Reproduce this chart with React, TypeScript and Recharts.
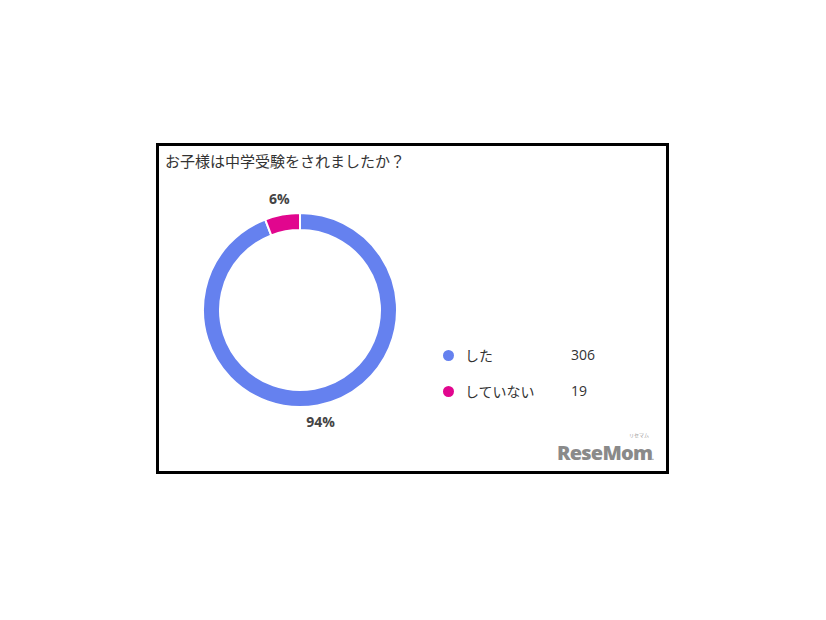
import React from 'react';
import { PieChart, Pie, Cell, Legend } from 'recharts';

const categories = ['した', 'していない'];
const counts = [306, 19];
const percentLabels = ['94%', '6%'];
const colors = ['#6581EF', '#E1068E'];
const title = 'お子様は中学受験をされましたか？';

const data = categories.map((name, i) => ({ name, value: counts[i] }));

const RADIAN = Math.PI / 180;
const renderLabel = (props: any) => {
  const { cx, cy, midAngle, index } = props;
  const r = 113;
  const x = cx + r * Math.cos(-midAngle * RADIAN);
  const y = cy + r * Math.sin(-midAngle * RADIAN);
  return (
    <text x={x} y={y} textAnchor="middle" dominantBaseline="central" fill="#444" fontSize={14} fontWeight={700} fontFamily="'Open Sans', 'Noto Sans', sans-serif">
      {percentLabels[index]}
    </text>
  );
};

const renderLegend = () => (
  <div style={{ fontFamily: "'Noto Sans CJK JP', 'Noto Sans', sans-serif", fontSize: 14, color: '#333' }}>
    {categories.map((c, i) => (
      <div key={c} style={{ position: 'relative', height: 36 }}>
        <span style={{ position: 'absolute', left: 0, top: 6, width: 11, height: 11, borderRadius: '50%', background: colors[i] }} />
        <span style={{ position: 'absolute', left: 22, top: 0, lineHeight: '22px' }}>{c}</span>
        <span style={{ position: 'absolute', left: 128, top: 0, lineHeight: '22px', fontFamily: "'Open Sans', 'Noto Sans', sans-serif" }}>{counts[i]}</span>
      </div>
    ))}
  </div>
);

export default function App() {
  return (
    <div style={{ position: 'absolute', left: 0, top: 0, width: 826, height: 620, background: '#fff' }}>
      <div style={{ position: 'absolute', left: 156, top: 143, width: 513, height: 331, border: '3px solid #000', boxSizing: 'border-box' }} />
      <div style={{ position: 'absolute', left: 165, top: 150, fontFamily: "'Noto Sans CJK JP', sans-serif", fontSize: 15, color: '#333', lineHeight: '22px' }}>
        {title}
      </div>
      <div style={{ position: 'absolute', left: 0, top: 0 }}>
        <PieChart width={826} height={620} margin={{ top: 0, right: 0, bottom: 0, left: 0 }}>
          <Pie
            data={data}
            dataKey="value"
            nameKey="name"
            cx={300}
            cy={310}
            innerRadius={80}
            outerRadius={97}
            startAngle={90}
            endAngle={-270}
            stroke="#fff"
            strokeWidth={2}
            label={renderLabel}
            labelLine={false}
            isAnimationActive={false}
          >
            {data.map((d, i) => (
              <Cell key={d.name} fill={colors[i]} />
            ))}
          </Pie>
          <Legend
            content={renderLegend}
            wrapperStyle={{ position: 'absolute', left: 443, top: 344, width: 200 }}
          />
        </PieChart>
      </div>
      <div style={{ position: 'absolute', left: 557, top: 436, width: 100, height: 30 }}>
        <div style={{ position: 'absolute', left: 72, top: -4, fontSize: 5, color: '#999', fontFamily: "'Noto Sans CJK JP', sans-serif", lineHeight: '5px' }}>リセマム</div>
        <div style={{ position: 'absolute', left: 0, top: 6, fontSize: 20, fontWeight: 800, color: '#8a8a8a', fontFamily: "'Open Sans', 'Noto Sans', sans-serif", letterSpacing: -0.8, lineHeight: '22px' }}>
          ReseMom<span style={{ fontSize: 6 }}>.</span>
        </div>
      </div>
    </div>
  );
}
